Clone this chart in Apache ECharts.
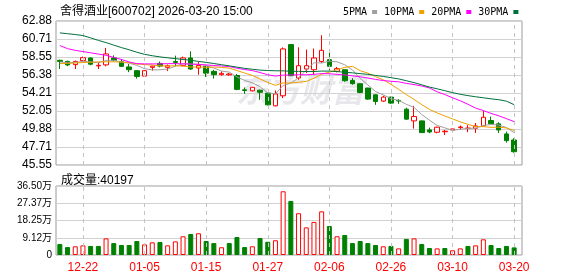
<!DOCTYPE html>
<html><head><meta charset="utf-8">
<script src="https://cdn.jsdelivr.net/npm/echarts@6/dist/echarts.min.js"></script>
<style>html,body{margin:0;padding:0;background:#fff}#c{width:578px;height:276px}</style>
</head><body><div id="c"></div><script>
const stockTitle = '舍得酒业[600702] 2026-03-20 15:00';
const dates = ['12-17','12-18','12-19','12-22','12-23','12-24','12-25','12-26','12-29','12-30','12-31',
 '01-05','01-06','01-07','01-08','01-09','01-12','01-13','01-14','01-15','01-16','01-19','01-20','01-21','01-22','01-23','01-26','01-27','01-28','01-29','01-30',
 '02-02','02-03','02-04','02-05','02-06','02-09','02-10','02-11','02-12','02-13','02-24','02-25','02-26','02-27',
 '03-02','03-03','03-04','03-05','03-06','03-09','03-10','03-11','03-12','03-13','03-16','03-17','03-18','03-19','03-20'];
const opens = [58.15,58.02,57.63,58.11,58.43,57.48,57.60,58.43,57.98,57.35,56.90,56.25,57.30,57.78,57.30,58.00,57.54,58.43,57.22,57.40,56.82,56.42,56.40,56.32,54.60,54.48,54.55,54.21,52.67,53.88,60.04,56.02,57.10,57.02,58.02,58.23,56.82,57.02,55.73,55.33,54.81,54.00,53.24,53.72,53.32,52.27,50.86,50.86,49.77,49.49,49.55,49.77,50.05,49.93,49.97,50.25,50.90,50.50,49.29,48.56];
const closes = [58.02,57.59,58.02,58.47,57.68,57.55,58.92,58.15,57.42,57.02,56.21,56.90,57.45,57.45,57.50,57.90,58.43,57.10,57.54,56.60,56.42,56.58,56.50,54.65,54.52,54.90,54.30,52.79,54.10,59.52,56.30,57.50,57.50,58.43,59.35,57.42,57.14,55.69,55.33,54.28,53.48,53.19,53.72,53.00,53.25,51.07,51.38,49.45,49.53,50.10,49.62,49.89,50.12,50.00,50.25,51.30,50.50,49.77,48.48,47.15];
const lows = [57.10,57.45,57.10,58.00,57.55,57.10,57.42,58.00,57.35,56.72,55.95,56.20,56.90,57.30,56.85,57.42,57.40,57.00,56.42,56.14,55.95,56.30,56.30,54.55,54.12,54.40,53.40,52.71,52.60,53.60,56.25,55.80,56.62,56.42,57.83,56.94,56.70,55.57,55.21,54.20,53.40,52.79,53.15,52.90,52.91,51.00,49.93,49.40,49.37,49.37,49.17,49.75,49.80,49.50,49.41,50.20,50.45,49.41,48.24,47.03];
const highs = [58.23,58.10,58.10,58.60,58.50,57.90,59.64,58.75,58.30,57.70,56.95,56.95,57.50,58.00,57.65,58.71,58.60,59.23,57.95,57.50,57.00,56.82,56.62,56.50,54.88,54.95,54.62,54.25,54.52,59.70,60.04,59.72,59.44,59.56,61.17,59.11,57.35,57.05,56.00,55.35,54.85,54.05,53.88,53.75,53.48,52.45,52.67,50.90,50.05,50.15,49.77,49.92,50.30,50.35,50.60,52.07,51.38,50.70,49.57,48.77];
const vols = [58000,42000,46000,51000,48000,48000,88000,63000,53000,53000,74000,56000,67000,69000,51000,72000,99000,111000,115000,74000,63000,41000,63000,95000,42000,46000,90000,70000,78000,337000,286000,221000,146000,175000,231000,153000,99000,106000,63000,74000,63000,53000,46000,48000,35000,85000,88000,58000,37000,35000,37000,25000,35000,48000,51000,83000,53000,37000,48000,40197];
const volDir = [-1,-1,1,1,-1,-1,1,-1,-1,-1,-1,1,1,-1,1,1,1,-1,1,-1,-1,1,-1,-1,-1,1,-1,-1,1,1,-1,1,1,1,1,-1,1,-1,-1,-1,-1,-1,1,-1,1,-1,1,-1,-1,1,-1,1,1,-1,1,1,-1,-1,-1,-1];
const ma5 = [57.95,57.85,57.90,58.02,57.96,57.86,58.13,58.15,57.94,57.81,57.54,57.14,57.00,57.01,57.10,57.44,57.75,57.68,57.69,57.51,57.22,56.85,56.73,56.15,55.73,55.43,54.97,54.23,54.12,55.12,55.40,56.04,56.98,57.85,57.82,58.04,57.97,57.61,56.99,55.97,55.18,54.39,54.00,53.53,53.33,52.85,52.48,51.63,50.94,50.31,50.02,49.72,49.85,49.95,49.98,50.31,50.43,50.36,50.06,49.44];
const ma10 = [57.75,57.78,57.82,57.88,57.92,57.95,57.97,57.97,57.93,57.88,57.70,57.64,57.58,57.48,57.46,57.49,57.45,57.34,57.35,57.31,57.33,57.30,57.21,56.92,56.62,56.33,55.91,55.48,55.14,55.43,55.42,55.51,55.61,55.99,56.47,56.72,57.01,57.30,57.42,56.90,56.61,56.18,55.81,55.26,54.65,54.02,53.44,52.82,52.24,51.82,51.44,51.10,50.74,50.45,50.15,50.17,50.08,50.11,50.01,49.71];
const ma20 = [59.92,59.55,59.35,59.20,59.05,58.90,58.75,58.50,58.25,57.95,57.75,57.72,57.72,57.72,57.75,57.75,57.72,57.70,57.65,57.60,57.52,57.47,57.40,57.20,57.04,56.91,56.68,56.41,56.25,56.37,56.38,56.41,56.41,56.46,56.55,56.53,56.46,56.39,56.28,56.17,56.02,55.85,55.71,55.63,55.56,55.37,55.23,55.06,54.83,54.36,54.03,53.64,53.28,52.86,52.40,52.10,51.76,51.47,51.13,50.77];
const ma30 = [61.45,61.35,61.25,61.13,60.85,60.55,60.28,59.98,59.68,59.42,59.12,58.87,58.70,58.56,58.45,58.35,58.25,58.15,58.02,57.90,57.76,57.62,57.48,57.33,57.18,57.07,56.97,56.92,56.89,56.88,56.82,56.82,56.80,56.80,56.85,56.85,56.79,56.71,56.64,56.55,56.46,56.33,56.21,56.06,55.91,55.69,55.46,55.20,54.93,54.72,54.49,54.26,54.06,53.90,53.76,53.64,53.51,53.41,53.23,52.81];
const priceTicks = ['45.55','47.71','49.88','52.05','54.21','56.38','58.55','60.71','62.88'];
const volTicks = ['0','9.12万','18.25万','27.37万','36.50万'];
const maNames = ['5PMA','10PMA','20PMA','30PMA'];
const priceMin = 45.55, priceMax = 62.88, volMax = 365000;

const RED = '#ff0000', GREEN = '#008000';
const maColors = ['#a0a0a0', '#f0a000', '#ff00ff', '#00703c'];
const FONT = 'Liberation Sans, Noto Sans CJK SC, sans-serif';
const showIdx = (i) => i % 8 === 3;
const kdata = dates.map((d, i) => [opens[i], closes[i], lows[i], highs[i]]);
const volData = vols.map((v, i) => ({
  value: v,
  itemStyle: volDir[i] > 0 ? { color: '#fff', borderColor: RED, borderWidth: 1 } : { color: GREEN, borderColor: GREEN, borderWidth: 1 }
}));
const vLines = dates.filter((d, i) => showIdx(i)).map(d => ({ xAxis: d }));
const dashStyle = { type: [4, 4], color: '#c4c4c4', width: 1 };

const chart = echarts.init(document.getElementById('c'), null, { renderer: 'canvas' });
const maSeries = [ma5, ma10, ma20, ma30].map((arr, k) => ({
  name: maNames[k], type: 'line', xAxisIndex: 2, yAxisIndex: 2, data: arr,
  symbol: 'none', showSymbol: false, smooth: false, z: 5,
  lineStyle: { width: 1, color: maColors[k] }, itemStyle: { color: maColors[k] }
}));
chart.setOption({
  animation: false,
  backgroundColor: '#fff',
  textStyle: { fontFamily: FONT },
  title: [
    { text: stockTitle, left: 55, top: 1, textStyle: { fontSize: 12, fontWeight: 'normal', color: '#000', fontFamily: FONT } },
    { text: '成交量:' + vols[vols.length - 1], left: 56, top: 170, textStyle: { fontSize: 12, fontWeight: 'normal', color: '#000', fontFamily: FONT } }
  ],
  legend: {
    data: maNames, left: 338, top: 2, align: 'right', icon: 'rect', itemWidth: 5, itemHeight: 4, itemGap: 7,
    textStyle: { fontSize: 10, fontFamily: 'DejaVu Sans Mono, monospace', color: '#000', padding: 0 }
  },
  graphic: [
    { type: 'text', left: 236, top: 74, z: 0, silent: true,
      style: { text: '东方财富', fontSize: 32, fontWeight: 'bold', fontStyle: 'italic', fill: '#e8e8ec', fontFamily: 'Noto Sans CJK SC' } }
  ],
  grid: [
    { left: 56, top: 21, width: 466, height: 144, show: true, borderColor: '#9a9a9a', borderWidth: 1, backgroundColor: 'transparent' },
    { left: 56, top: 186, width: 466, height: 69, show: true, borderColor: '#9a9a9a', borderWidth: 1, backgroundColor: 'transparent' },
    { left: 56, top: 21, width: 462, height: 144 },
    { left: 56, top: 186, width: 462, height: 69 }
  ],
  xAxis: [
    { type: 'value', gridIndex: 0, min: 0, max: 1, show: false },
    { type: 'value', gridIndex: 1, min: 0, max: 1, show: false },
    { type: 'category', gridIndex: 2, data: dates, boundaryGap: true, axisLine: { show: false }, axisTick: { show: false }, axisLabel: { show: false }, splitLine: { show: false } },
    { type: 'category', gridIndex: 3, data: dates, boundaryGap: true, axisLine: { show: false }, axisTick: { show: false }, splitLine: { show: false },
      axisLabel: { interval: (i) => showIdx(i), color: RED, fontSize: 12, margin: 7, fontFamily: FONT } }
  ],
  yAxis: [
    { type: 'value', gridIndex: 0, min: 0, max: 8, interval: 1, axisLine: { show: false }, axisTick: { show: false },
      axisLabel: { formatter: (v) => priceTicks[v], fontSize: 12, color: '#000', margin: 4, showMinLabel: true, showMaxLabel: true, fontFamily: FONT },
      splitLine: { show: true, lineStyle: { color: '#d2d2d2', width: 1 } } },
    { type: 'value', gridIndex: 1, min: 0, max: 4, interval: 1, axisLine: { show: false }, axisTick: { show: false },
      axisLabel: { formatter: (v) => volTicks[v], fontSize: 10, color: '#000', margin: 4, showMinLabel: true, showMaxLabel: true, fontFamily: FONT },
      splitLine: { show: true, lineStyle: { color: '#d2d2d2', width: 1 } } },
    { type: 'value', gridIndex: 2, min: priceMin, max: priceMax, show: false, splitLine: { show: false } },
    { type: 'value', gridIndex: 3, min: 0, max: volMax, show: false, splitLine: { show: false } }
  ],
  series: [
    { type: 'line', xAxisIndex: 2, yAxisIndex: 2, data: [], silent: true, z: 1,
      markLine: { symbol: ['none', 'none'], silent: true, animation: false, label: { show: false }, lineStyle: dashStyle, data: vLines } },
    { type: 'line', xAxisIndex: 3, yAxisIndex: 3, data: [], silent: true, z: 1,
      markLine: { symbol: ['none', 'none'], silent: true, animation: false, label: { show: false }, lineStyle: dashStyle, data: vLines } },
    { type: 'candlestick', name: 'K', xAxisIndex: 2, yAxisIndex: 2, data: kdata, barWidth: 5, z: 3,
      itemStyle: { color: '#fff', color0: GREEN, borderColor: RED, borderColor0: GREEN, borderWidth: 1 } },
    ...maSeries,
    { type: 'bar', name: 'VOL', xAxisIndex: 3, yAxisIndex: 3, data: volData, barWidth: 5, z: 3 }
  ]
});
</script></body></html>
